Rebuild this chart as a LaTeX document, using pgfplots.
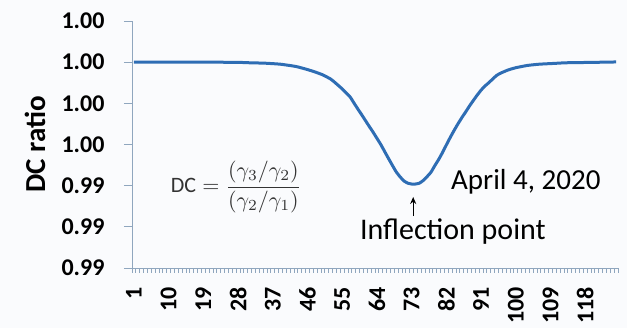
\documentclass[border=0pt]{standalone}
\usepackage{pgfplots}
\pgfplotsset{compat=1.18}
\usepackage{graphicx}
\usepackage{fontspec}
\setmainfont{Carlito}
\usetikzlibrary{arrows.meta}
\definecolor{linecol}{HTML}{2E6DB4}
\definecolor{axcol}{HTML}{8FA6BE}
\definecolor{bgcol}{HTML}{FAFBFD}
\pgfplotstableread{
x y
1 1.00000
10 1.00000
20 1.00000
28 0.99999
31 0.99997
35 0.99995
39 0.99990
43 0.99979
46 0.99964
48 0.99952
50 0.99938
52 0.99918
53 0.99903
55 0.99870
57 0.99832
58 0.99803
59 0.99774
60 0.99746
61 0.99717
62 0.99688
63 0.99660
64 0.99630
65 0.99600
66 0.99566
67 0.99532
68 0.99499
69 0.99467
70 0.99443
71 0.99423
72 0.99412
73 0.99408
74 0.99408
75 0.99412
76 0.99425
77 0.99444
78 0.99465
79 0.99497
80 0.99527
81 0.99561
82 0.99598
83 0.99634
84 0.99668
85 0.99700
86 0.99730
87 0.99758
88 0.99787
89 0.99814
90 0.99840
91 0.99864
92 0.99884
93 0.99900
94 0.99918
95 0.99935
96 0.99946
98 0.99962
100 0.99973
103 0.99984
106 0.99990
110 0.99994
113 0.99997
120 0.99999
126 1.00001
}\dcdata
\begin{document}
\begin{tikzpicture}
\path[use as bounding box, fill=bgcol] (-132pt,-60pt) rectangle (495pt,268pt);
\begin{axis}[
  scale only axis, width=486pt, height=247pt,
  xmin=0.5, xmax=126.5, ymin=0.990, ymax=1.002,
  axis x line*=bottom, axis y line*=left,
  axis line style={-, draw=axcol, line width=0.9pt},
  clip=false,
  xtick={1,10,19,28,37,46,55,64,73,82,91,100,109,118},
  xticklabels={1,10,19,28,37,46,55,64,73,82,91,100,109,118},
  minor xtick={0.5,1.5,...,126.5},
  ytick={0.990,0.992,0.994,0.996,0.998,1.000,1.002},
  yticklabels={0.99,0.99,0.99,1.00,1.00,1.00,1.00},
  tick align=outside,
  major tick length=8pt, minor tick length=5pt,
  tick style={draw=axcol, line width=0.9pt},
  major x tick style={draw=none},
  xticklabel style={font=\fontsize{24}{25}\selectfont\bfseries, rotate=90, anchor=east, inner xsep=11pt},
  yticklabel style={font=\fontsize{24}{25}\selectfont\bfseries, anchor=east, xshift=-16pt},
  ylabel={DC ratio},
  ylabel style={font=\fontsize{29}{30}\selectfont\bfseries, at={(axis description cs:-0.1996,0.5)}, anchor=center},
]
\addplot[linecol, line width=3pt, line join=round, smooth, tension=0.3] table[x=x,y=y] {\dcdata};
\node[font=\fontsize{29}{30}\selectfont] at (axis cs:102.6,0.99418) {April 4, 2020};
\node[font=\fontsize{30}{31}\selectfont] at (axis cs:83.7,0.99175) {Inflection point};
\draw[-{Stealth[length=7pt,width=6pt]}, line width=1.2pt] (axis cs:73.4,0.99252) -- (axis cs:73.4,0.99345);
\node[text=black!80] at (axis cs:27.5,0.99393) {\scalebox{2.2}{$\mathrm{DC}={\displaystyle\frac{(\gamma_3/\gamma_2)}{(\gamma_2/\gamma_1)}}$}};
\end{axis}
\end{tikzpicture}
\end{document}
